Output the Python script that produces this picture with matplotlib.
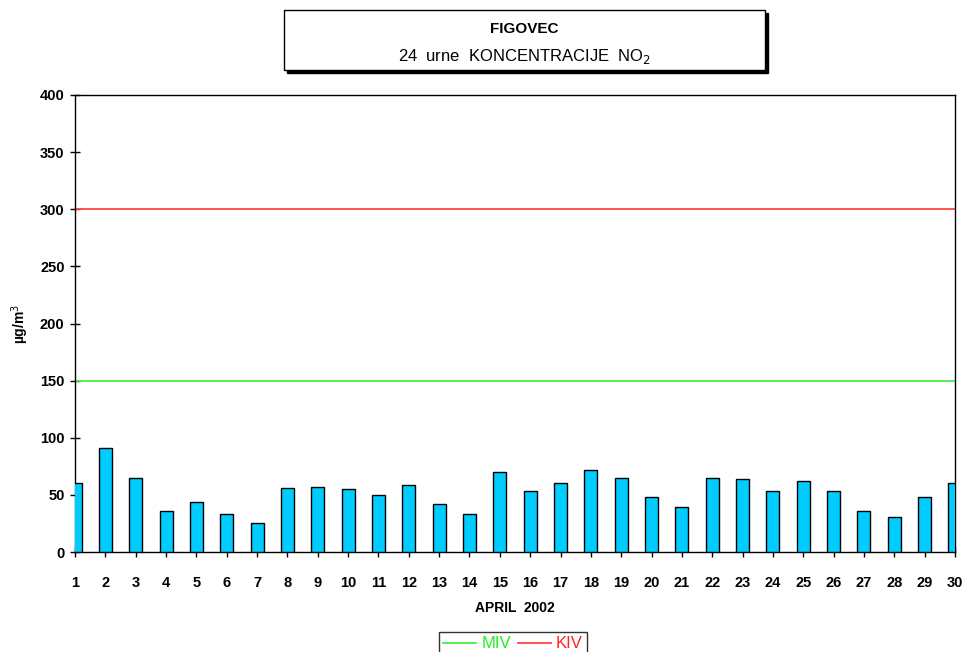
import matplotlib
matplotlib.use("Agg")
import matplotlib.pyplot as plt
from matplotlib.patches import Rectangle

plt.rcParams['font.family'] = ['Liberation Sans', 'DejaVu Sans']

days = list(range(1, 31))
no2 = [60, 91, 65, 36, 44, 33, 25, 56, 57, 55, 50, 59, 42, 33, 70,
       53, 60, 72, 65, 48, 39, 65, 64, 53, 62, 53, 36, 31, 48, 60]
miv = 150
kiv = 300
yticks = [0, 50, 100, 150, 200, 250, 300, 350, 400]

W, H = 965, 652
fig = plt.figure(figsize=(W / 100, H / 100), dpi=100)
ax = fig.add_axes([75 / W, (H - 552) / H, (955 - 75) / W, (552 - 95) / H])

ax.bar(days, no2, width=0.43, color='#00CCFF', edgecolor='black', linewidth=1.0, zorder=3)
l1, = ax.plot([0, 31], [miv, miv], color='#44EE44', linewidth=1.3, label='MIV', zorder=2)
l2, = ax.plot([0, 31], [kiv, kiv], color='#FF4444', linewidth=1.3, label='KIV', zorder=2)

ax.set_xlim(1, 30)
ax.set_ylim(0, 400)
ax.set_xticks(days)
ax.set_yticks(yticks)
ax.tick_params(axis='both', direction='inout', length=7, width=1.0, labelsize=10.5)
for lab in ax.get_xticklabels() + ax.get_yticklabels():
    lab.set_fontweight('bold')
ax.tick_params(axis='x', pad=14)
ax.tick_params(axis='y', pad=4)
for s in ax.spines.values():
    s.set_linewidth(1.0)

ax.set_xlabel('APRIL  2002', fontsize=10, fontweight='bold', labelpad=8)
ax.set_ylabel('µg/m$^3$', fontsize=10, fontweight='bold', labelpad=6)

# title box with drop shadow
bx0, by0, bw, bh = 284 / W, 1 - 70 / H, (765 - 284) / W, 60 / H
fig.patches.append(Rectangle((bx0 + 3 / W, by0 - 3 / H), bw, bh, transform=fig.transFigure,
                             facecolor='black', edgecolor='black', zorder=1))
fig.patches.append(Rectangle((bx0, by0), bw, bh, transform=fig.transFigure,
                             facecolor='white', edgecolor='black', linewidth=1.0, zorder=2))
fig.text(0.5 * (284 + 765) / W, 1 - 29 / H, 'FIGOVEC', ha='center', va='center',
         fontsize=11, fontweight='bold', zorder=3)
fig.text(0.5 * (284 + 765) / W, 1 - 57 / H, '24  urne  KONCENTRACIJE  NO$_2$', ha='center',
         va='center', fontsize=12, zorder=3)

leg = fig.legend(handles=[l1, l2], loc='upper center', bbox_to_anchor=(513 / W, 1 - 624 / H),
                 ncol=2, frameon=True, fancybox=False, edgecolor='black', fontsize=12,
                 handlelength=2.0, handletextpad=0.3, columnspacing=0.4, borderpad=0.25,
                 labelcolor='linecolor')
for t, c in zip(leg.get_texts(), ['#22EE22', '#FF2222']):
    t.set_color(c)
leg.get_frame().set_linewidth(1.0)

fig.savefig('out.png', dpi=100)
